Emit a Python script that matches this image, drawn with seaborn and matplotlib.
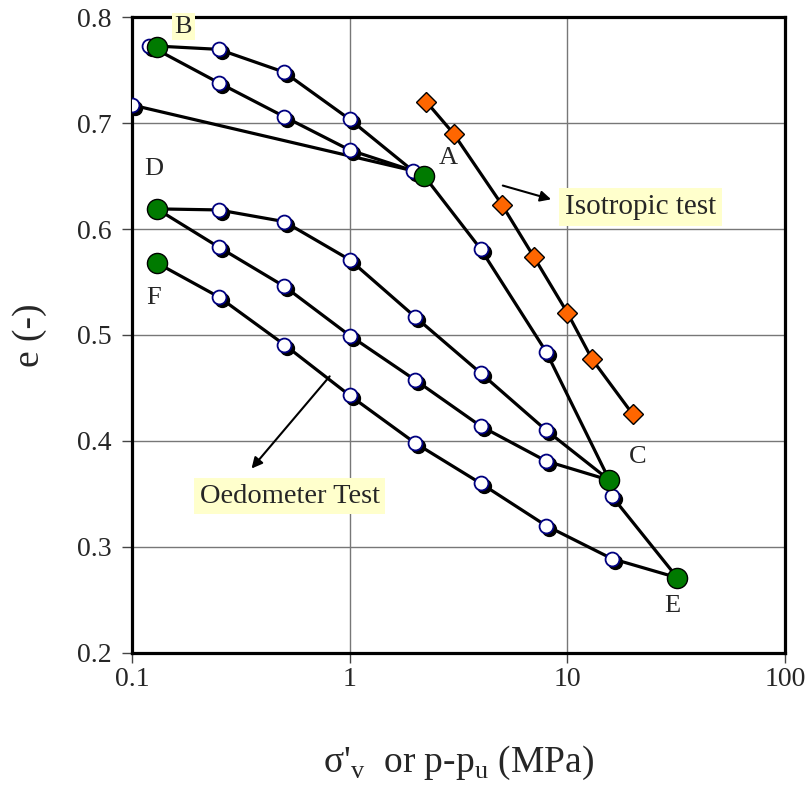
import pandas as pd
import seaborn as sns
import matplotlib.pyplot as plt
from matplotlib.transforms import offset_copy

# oedometer test, one list per loading / unloading branch (stress in MPa, void ratio e)
d_to_a_x = [0.1, 1.95]
d_to_a_e = [0.717, 0.655]
a_to_b_x = [1.95, 1.0, 0.5, 0.25, 0.12]
a_to_b_e = [0.655, 0.6745, 0.706, 0.738, 0.773]
b_to_a_x = [0.12, 0.25, 0.5, 1.0, 1.95]
b_to_a_e = [0.773, 0.7695, 0.748, 0.7035, 0.655]
a_to_c_x = [2.2, 4.0, 8.0, 15.6]
a_to_c_e = [0.650, 0.581, 0.484, 0.363]
c_unload_x = [15.6, 8.0, 4.0, 2.0, 1.0, 0.5, 0.25, 0.13]
c_unload_e = [0.363, 0.410, 0.464, 0.517, 0.571, 0.607, 0.618, 0.619]
reload_x = [0.13, 0.25, 0.5, 1.0, 2.0, 4.0, 8.0, 15.6, 16.0, 32.0]
reload_e = [0.619, 0.583, 0.546, 0.4995, 0.4575, 0.414, 0.381, 0.363, 0.348, 0.271]
e_unload_x = [32.0, 16.0, 8.0, 4.0, 2.0, 1.0, 0.5, 0.25, 0.13]
e_unload_e = [0.271, 0.289, 0.320, 0.360, 0.398, 0.443, 0.491, 0.536, 0.568]

# key states (green dots)
key_x = [2.2, 0.13, 15.6, 32.0, 0.13, 0.13]
key_e = [0.650, 0.772, 0.363, 0.271, 0.619, 0.568]

# isotropic test
iso_x = [2.25, 3.0, 5.0, 7.0, 10.0, 13.0, 20.0]
iso_e = [0.720, 0.690, 0.623, 0.574, 0.521, 0.477, 0.425]

# point labels
lab_text = ["A", "B", "C", "D", "E", "F"]
lab_x = [2.83, 0.172, 21.0, 0.126, 30.2, 0.126]
lab_e = [0.667, 0.791, 0.385, 0.657, 0.244, 0.535]

branches = {
    "DA": (d_to_a_x, d_to_a_e),
    "AB": (a_to_b_x, a_to_b_e),
    "BA": (b_to_a_x, b_to_a_e),
    "AC": (a_to_c_x, a_to_c_e),
    "CU": (c_unload_x, c_unload_e),
    "RL": (reload_x, reload_e),
    "EU": (e_unload_x, e_unload_e),
}
rows = []
for name, (xs, es) in branches.items():
    for i, (x, e) in enumerate(zip(xs, es)):
        rows.append({"branch": name, "order": i, "stress": x, "e": e})
oed = pd.DataFrame(rows)

keys = set(zip(key_x, key_e))
open_pts = oed[["stress", "e"]].drop_duplicates()
open_pts = open_pts[[(x, e) not in keys for x, e in zip(open_pts["stress"], open_pts["e"])]]

sns.set_theme(style="white")
plt.rcParams["font.family"] = ["Liberation Serif", "DejaVu Serif"]
plt.rcParams["mathtext.fontset"] = "custom"
plt.rcParams["mathtext.rm"] = "Liberation Serif"

fig = plt.figure(figsize=(8.11, 7.85), dpi=100)
ax = fig.add_axes([0.1628, 0.1682, 0.8052, 0.8101])
ax.set_xscale("log")

sns.lineplot(data=oed, x="stress", y="e", units="branch", estimator=None, sort=False,
             color="black", lw=2.3, ax=ax, zorder=2)
sns.lineplot(x=iso_x, y=iso_e, sort=False, color="black", lw=2.3, ax=ax, zorder=2)

# shadow under the open circles
shadow = offset_copy(ax.transData, fig=fig, x=3, y=-3, units="dots")
ax.plot(open_pts["stress"], open_pts["e"], "o", ms=10, color="black", transform=shadow, zorder=3)
ax.plot(open_pts["stress"], open_pts["e"], "o", ms=10, mfc="white", mec="#000080", mew=1.3, zorder=4)
ax.plot(key_x, key_e, "o", ms=14.5, mfc="#007A00", mec="black", mew=1.0, zorder=5)
ax.plot(iso_x, iso_e, "D", ms=10, mfc="#FF6600", mec="black", mew=1.0, zorder=5)

for t, x, e in zip(lab_text, lab_x, lab_e):
    kw = {}
    if t == "B":
        kw["bbox"] = dict(boxstyle="square,pad=0.1", fc="#FFFFCC", ec="none")
    ax.text(x, e, t, fontsize=19, ha="center", va="center", zorder=6, clip_on=False, **kw)

box = dict(boxstyle="square,pad=0.2", fc="#FFFFCC", ec="none")
ax.text(21.6, 0.621, "Isotropic test", fontsize=21, ha="center", va="center", bbox=box, zorder=6)
ax.text(0.53, 0.348, "Oedometer Test", fontsize=20.5, ha="center", va="center", bbox=box, zorder=6)

arrow = dict(arrowstyle="-|>", color="black", lw=1.5, mutation_scale=16, shrinkA=0, shrinkB=0)
ax.annotate("", xy=(8.42, 0.628), xytext=(5.05, 0.641), arrowprops=arrow, zorder=6)
ax.annotate("", xy=(0.354, 0.374), xytext=(0.809, 0.461), arrowprops=arrow, zorder=6)

ax.set_xlim(0.1, 100)
ax.set_ylim(0.2, 0.8)
ax.set_xticks([0.1, 1, 10, 100])
ax.set_xticklabels(["0.1", "1", "10", "100"])
ax.set_yticks([0.2, 0.3, 0.4, 0.5, 0.6, 0.7, 0.8])
ax.set_yticklabels(["0.2", "0.3", "0.4", "0.5", "0.6", "0.7", "0.8"])
ax.minorticks_off()
ax.grid(True, color="#777777", lw=1.0)
ax.tick_params(axis="both", which="major", direction="out", length=7, width=1.0,
               color="#444444", labelsize=20, left=True, bottom=True)
ax.tick_params(axis="x", pad=3)
ax.tick_params(axis="y", pad=8)
for s in ax.spines.values():
    s.set_color("black")
    s.set_linewidth(2.3)

ax.set_xlabel(r"σ'$_\mathrm{v}$  or p-p$_\mathrm{u}$ (MPa)", fontsize=27)
ax.set_ylabel("e (-)", fontsize=27)
ax.xaxis.set_label_coords(0.5, -0.143)
ax.yaxis.set_label_coords(-0.13, 0.5)

fig.savefig("out.png", dpi=100)
